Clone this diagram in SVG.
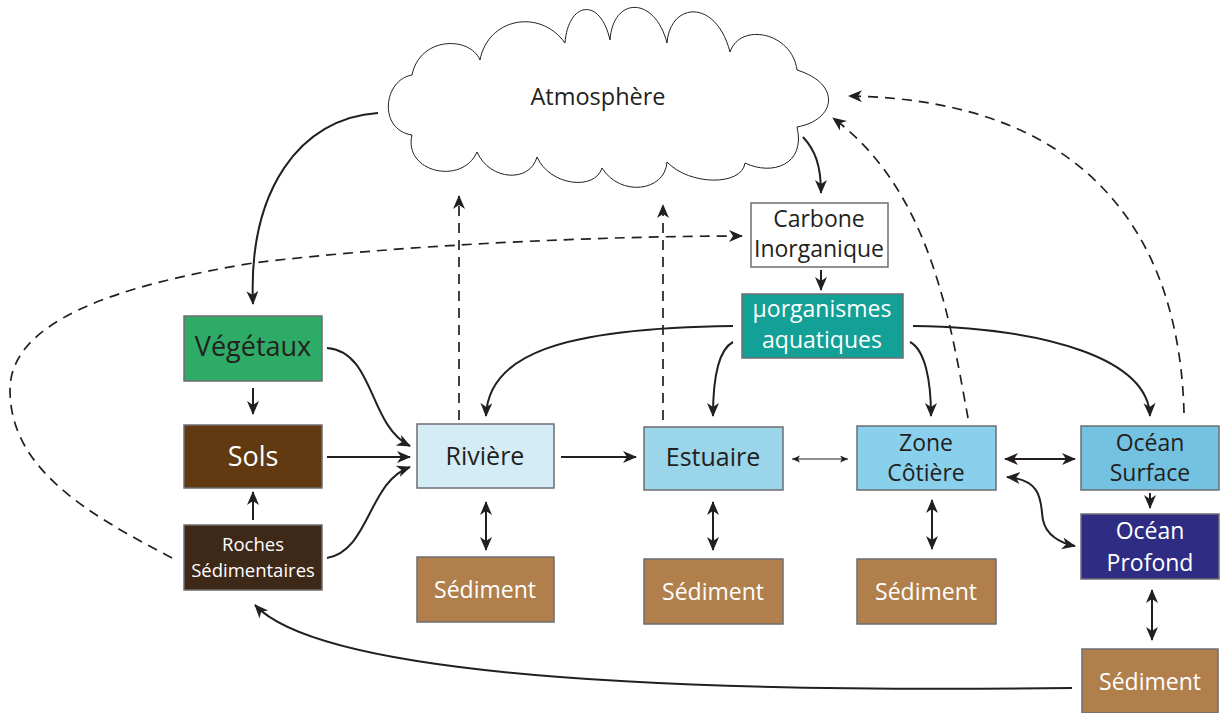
<svg xmlns="http://www.w3.org/2000/svg" width="1220" height="713" viewBox="0 0 1220 713">
<style>
.box{stroke:#6d6e71;stroke-width:1.5}
.t{font-family:"Open Sans","Liberation Sans",sans-serif;text-anchor:middle}
.dk{fill:#231f20}
.wh{fill:#ffffff}
.c{fill:none;stroke:#231f20;stroke-width:2}
.d{fill:none;stroke:#231f20;stroke-width:1.7;stroke-dasharray:10,7}
.thin{fill:none;stroke:#231f20;stroke-width:1}
</style>
<defs>
<marker id="ah" markerUnits="userSpaceOnUse" markerWidth="16" markerHeight="14" refX="13" refY="6" orient="auto-start-reverse" viewBox="0 0 16 14">
<path d="M0,0 L14,6 L0,12 L4,6 Z" fill="#231f20"/>
</marker>
<marker id="ahs" markerUnits="userSpaceOnUse" markerWidth="10" markerHeight="8" refX="8" refY="3.5" orient="auto-start-reverse" viewBox="0 0 10 8">
<path d="M0,0 L8,3.5 L0,7 L2,3.5 Z" fill="#231f20"/>
</marker>
</defs>
<rect width="1220" height="713" fill="#ffffff"/>

<g id="atmosphere">
<path d="M480,60 C470,36 420,36 412,75 C383,80 378,130 412,135 C403,172 462,186 477,152 C490,181 530,183 537,157 C550,186 595,191 602,168 C620,197 665,192 667,162 C690,186 742,186 745,163 C772,176 806,165 797,127 C836,120 842,84 797,70 C792,32 740,22 730,52 C716,-2 670,2 667,43 C655,-4 613,-4 610,40 C600,-4 568,2 565,43 C540,8 488,18 480,60 Z" fill="#ffffff" stroke="#231f20" stroke-width="1"/>
<text class="t dk" x="598" y="105" font-size="23.5">Atmosphère</text>
</g>

<g id="carbone">
<rect class="box" x="751" y="203" width="137" height="64" fill="#ffffff"/>
<text class="t dk" x="819" y="227" font-size="23">Carbone</text>
<text class="t dk" x="819" y="257" font-size="23">Inorganique</text>
</g>

<g id="microorganismes">
<rect class="box" x="742" y="294" width="161" height="64" fill="#13a097"/>
<text class="t wh" x="822" y="317" font-size="23">µorganismes</text>
<text class="t wh" x="822" y="348" font-size="23">aquatiques</text>
</g>

<g id="vegetaux">
<rect class="box" x="184" y="316" width="138" height="65" fill="#2eab66"/>
<text class="t dk" x="253" y="356" font-size="27">Végétaux</text>
</g>

<g id="sols">
<rect class="box" x="184" y="425" width="138" height="63" fill="#623a11"/>
<text class="t wh" x="253" y="466" font-size="27">Sols</text>
</g>

<g id="roches">
<rect class="box" x="184" y="525" width="138" height="65" fill="#3e2818"/>
<text class="t wh" x="253" y="551" font-size="18.5">Roches</text>
<text class="t wh" x="253" y="577" font-size="18.5">Sédimentaires</text>
</g>

<g id="riviere">
<rect class="box" x="417" y="424" width="137" height="64" fill="#d4ecf6"/>
<text class="t dk" x="485" y="465" font-size="25">Rivière</text>
</g>

<g id="estuaire">
<rect class="box" x="644" y="427" width="139" height="63" fill="#9ad5ea"/>
<text class="t dk" x="713" y="466" font-size="25">Estuaire</text>
</g>

<g id="zone-cotiere">
<rect class="box" x="857" y="426" width="139" height="64" fill="#88d0ec"/>
<text class="t dk" x="926" y="451" font-size="23">Zone</text>
<text class="t dk" x="926" y="481" font-size="23">Côtière</text>
</g>

<g id="ocean-surface">
<rect class="box" x="1081" y="426" width="138" height="64" fill="#74c2e2"/>
<text class="t dk" x="1150" y="451" font-size="23">Océan</text>
<text class="t dk" x="1150" y="481" font-size="23">Surface</text>
</g>

<g id="ocean-profond">
<rect class="box" x="1081" y="514" width="138" height="65" fill="#2e2d83"/>
<text class="t wh" x="1150" y="539" font-size="23">Océan</text>
<text class="t wh" x="1150" y="571" font-size="23">Profond</text>
</g>

<g id="sediment-riviere">
<rect class="box" x="417" y="557" width="137" height="65" fill="#b07f4b"/>
<text class="t wh" x="485" y="598" font-size="23">Sédiment</text>
</g>

<g id="sediment-estuaire">
<rect class="box" x="644" y="559" width="139" height="65" fill="#b07f4b"/>
<text class="t wh" x="713" y="600" font-size="23">Sédiment</text>
</g>

<g id="sediment-cotiere">
<rect class="box" x="857" y="559" width="139" height="65" fill="#b07f4b"/>
<text class="t wh" x="926" y="600" font-size="23">Sédiment</text>
</g>

<g id="sediment-ocean">
<rect class="box" x="1082" y="649" width="136" height="64" fill="#b07f4b"/>
<text class="t wh" x="1150" y="690" font-size="23">Sédiment</text>
</g>

<g id="connectors">
<path class="c" d="M378,113 C300,118 248,190 253,304" marker-end="url(#ah)"/>
<path class="d" d="M172,558 C90,515 10,470 10,390 C10,320 120,285 253,263 C400,245 600,236 742,236" marker-end="url(#ah)"/>
<path class="d" d="M459,420 L459,196" marker-end="url(#ah)"/>
<path class="d" d="M663,420 L663,205" marker-end="url(#ah)"/>
<path class="c" d="M733,326 C560,328 488,355 486,416" marker-end="url(#ah)"/>
<path class="c" d="M733,342 C718,350 713,380 713,416" marker-end="url(#ah)"/>
<path class="c" d="M910,342 C925,350 931,380 931,416" marker-end="url(#ah)"/>
<path class="c" d="M913,326 C1050,328 1148,360 1150,416" marker-end="url(#ah)"/>
<path class="d" d="M968,418 C950,320 930,190 833,118" marker-end="url(#ah)"/>
<path class="d" d="M1184,413 C1180,250 1100,100 849,96" marker-end="url(#ah)"/>
<path class="c" d="M803,137 C815,150 821,165 821,193" marker-end="url(#ah)"/>
<path class="c" d="M821,270 L821,290" marker-end="url(#ah)"/>
<path class="c" d="M253,388 L253,414" marker-end="url(#ah)"/>
<path class="c" d="M253,520 L253,492" marker-end="url(#ah)"/>
<path class="c" d="M327,348 C375,352 368,425 410,446" marker-end="url(#ah)"/>
<path class="c" d="M327,457 L410,457" marker-end="url(#ah)"/>
<path class="c" d="M327,558 C370,550 368,482 410,467" marker-end="url(#ah)"/>
<path class="c" d="M561,457 L636,457" marker-end="url(#ah)"/>
<path class="thin" d="M792,459 L848,459" marker-start="url(#ahs)" marker-end="url(#ahs)"/>
<path class="c" d="M1005,459 L1075,459" marker-start="url(#ah)" marker-end="url(#ah)"/>
<path class="c" d="M1007,477 C1045,480 1040,505 1043,520 C1046,535 1060,543 1075,546" marker-start="url(#ah)" marker-end="url(#ah)"/>
<path class="c" d="M1150,493 L1150,508" marker-end="url(#ah)"/>
<path class="c" d="M486,502 L486,550" marker-start="url(#ah)" marker-end="url(#ah)"/>
<path class="c" d="M713,502 L713,550" marker-start="url(#ah)" marker-end="url(#ah)"/>
<path class="c" d="M932,500 L932,549" marker-start="url(#ah)" marker-end="url(#ah)"/>
<path class="c" d="M1152,590 L1152,640" marker-start="url(#ah)" marker-end="url(#ah)"/>
<path class="c" d="M1072,688 C760,692 330,685 255,605" marker-end="url(#ah)"/>
</g>
</svg>
